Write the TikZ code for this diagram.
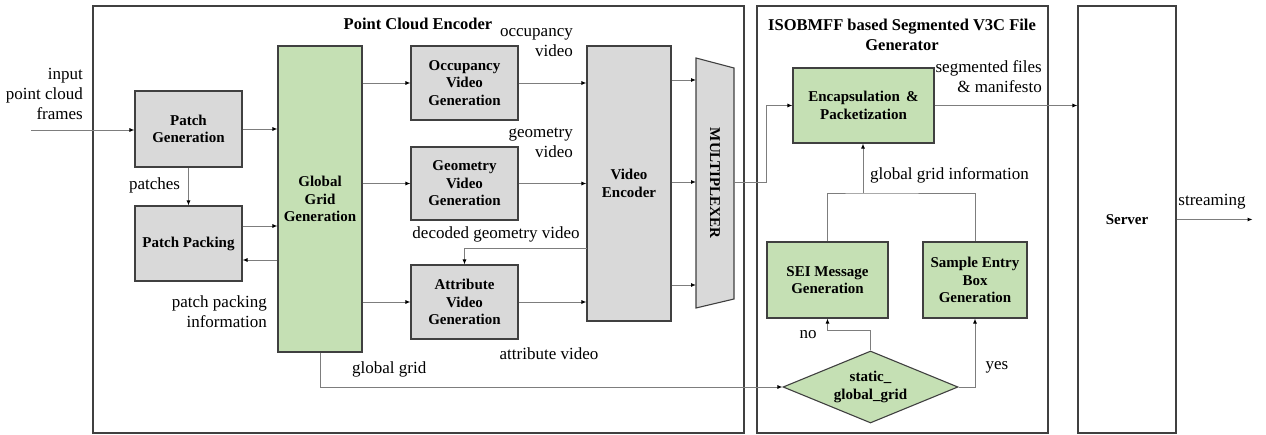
\documentclass[tikz,border=0pt]{standalone}
\usepackage{fontspec}
\setmainfont{Liberation Serif}
\usetikzlibrary{arrows.meta,positioning,shapes.geometric,calc}
\definecolor{boxgray}{RGB}{217,217,217}
\definecolor{boxgreen}{RGB}{197,224,180}
\definecolor{edgegray}{RGB}{64,64,64}
\definecolor{wiregray}{RGB}{125,125,125}

\begin{document}
\begin{tikzpicture}[x=1pt, y=-1pt,
  blk/.style={draw=edgegray, line width=1.1pt, fill=boxgray, align=center, inner sep=1pt, font=\fontsize{15}{17.5}\selectfont\bfseries},
  grn/.style={blk, fill=boxgreen},
  frame/.style={draw=edgegray, line width=1.3pt},
  lbl/.style={font=\fontsize{17}{20}\selectfont, align=center, inner sep=0pt},
  ttl/.style={font=\fontsize{16.5}{20}\selectfont\bfseries, align=center, inner sep=0pt},
  wire/.style={draw=wiregray, line width=0.9pt},
  arr/.style={wire, -{Latex[length=5pt, width=4pt, color=black]}}]
\useasboundingbox (0,0) rectangle (1266,435);
% outer frames
\draw[frame] (93,6) rectangle (744,433);
\draw[frame] (757,6) rectangle (1048,433);
\node[ttl] (enctitle) at (418,24) {Point Cloud Encoder};
\node[ttl] (isotitle) at (902,35) {ISOBMFF based Segmented V3C File\\Generator};
% point cloud encoder blocks
\node[blk, minimum width=107pt, minimum height=76pt] (pg) at (188.5,129) {Patch\\Generation};
\node[blk, minimum width=107pt, minimum height=75pt] (pp) at (188.5,243.5) {Patch Packing};
\node[grn, minimum width=84pt, minimum height=306pt] (ggg) at (320,199) {Global\\Grid\\Generation};
\node[blk, minimum width=107pt, minimum height=74pt] (occ) at (464.5,83) {Occupancy\\Video\\Generation};
\node[blk, minimum width=107pt, minimum height=73pt] (geo) at (464.5,183.5) {Geometry\\Video\\Generation};
\node[blk, minimum width=107pt, minimum height=74pt] (att) at (464.5,302) {Attribute\\Video\\Generation};
\node[blk, minimum width=84pt, minimum height=275pt] (enc) at (629,183.5) {Video\\Encoder};
\draw[draw=edgegray, line width=1.1pt, fill=boxgray] (696,58) -- (734,68) -- (734,299) -- (696,308) -- cycle;
\node[font=\fontsize{15}{17.5}\selectfont\bfseries, rotate=-90] (mux) at (715,183) {MULTIPLEXER};
% segmented file generator blocks
\node[grn, minimum width=141pt, minimum height=75pt] (encap) at (863.5,105.5) {Encapsulation \,\&\\Packetization};
\node[grn, minimum width=121pt, minimum height=76pt] (sei) at (827.5,280) {SEI Message\\Generation};
\node[grn, minimum width=104pt, minimum height=76pt] (seb) at (975,280) {Sample Entry\\Box\\Generation};
\node[grn, diamond, aspect=2.4, inner sep=0pt, minimum width=175pt, minimum height=72pt] (dia) at (870.5,387) {static\_\\global\_grid};
\node[blk, fill=white, minimum width=98pt, minimum height=427pt] (srv) at (1127,219.5) {\raisebox{-3pt}{Server}};
% connectors
\coordinate (in) at (31,130);
\draw[arr] (in) -- (in -| pg.west);
\draw[arr] (pg.east) -- (pg.east -| ggg.west);
\draw[arr] (pg.south) -- (pp.north);
\draw[arr] ($(pp.east)+(0,-17.5)$) -- ($(pp.east -| ggg.west)+(0,-17.5)$);
\draw[arr] ($(pp.east -| ggg.west)+(0,16.5)$) -- ($(pp.east)+(0,16.5)$);
\foreach \v in {occ, geo, att} {
  \draw[arr] (ggg.east |- \v) -- (\v.west);
  \draw[arr] (\v.east) -- (\v.east -| enc.west);
}
\foreach \i/\my in {1/80, 2/182, 3/285} {
  \coordinate (mx\i) at (696,\my);
  \draw[arr] (enc.east |- mx\i) -- (mx\i);
}
\coordinate (dec) at (587,248);
\draw[arr] (dec) -| (att.north);
\draw[arr] (ggg.south) |- (dia.west);
\coordinate (mxout) at (734,182);
\draw[arr] (mxout) -- ++(32,0) |- (encap.west);
\draw[arr] (encap.east) -- (encap.east -| srv.west);
\coordinate (jn) at (863,193);
\draw[wire] (sei.north) |- (jn) -| (seb.north);
\draw[arr] (jn) -- (jn |- encap.south);
\draw[arr] (dia.north) -- ++(0,-20) -| (sei.south);
\draw[arr] (dia.east) -| (seb.south);
\draw[arr] (srv.east) -- ++(76,0);
% labels
\node[lbl, anchor=east, align=right] (inlbl) at (83,94) {input\\point cloud\\frames};
\node[lbl] (patlbl) at (154.5,185) {patches};
\node[lbl, anchor=east, align=right] (pplbl) at (267,312) {patch packing\\information};
\node[lbl, anchor=east, align=right] (occlbl) at (573,43) {occupancy\\video};
\node[lbl, anchor=east, align=right] (geolbl) at (573,143) {geometry\\video};
\node[lbl] (declbl) at (496,234) {decoded geometry video};
\node[lbl] (attlbl) at (549,354) {attribute video};
\node[lbl, anchor=west] (gglbl) at (352,369) {global grid};
\node[lbl, anchor=west] (ggilbl) at (870,175) {global grid information};
\node[lbl, anchor=east, align=right] (seglbl) at (1042,77) {segmented files\\\& manifesto};
\node[lbl] (nolbl) at (808,335) {no};
\node[lbl] (yeslbl) at (997,367) {yes};
\node[lbl] (strlbl) at (1212,202) {streaming};
\end{tikzpicture}
\end{document}
